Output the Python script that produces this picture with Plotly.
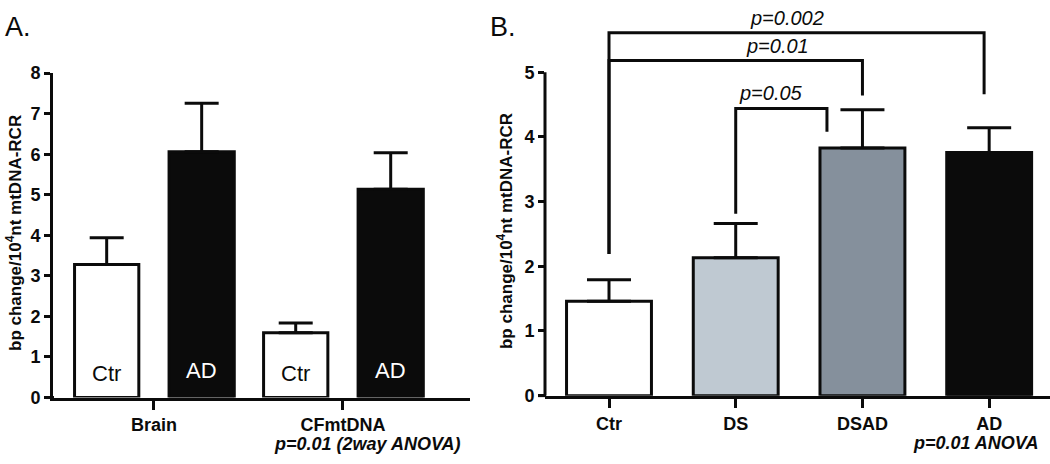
import plotly.graph_objects as go

# ---------------- data ----------------
a_categories = ["Brain", "CFmtDNA"]
a_ctr_values = [3.28, 1.60]
a_ctr_err_top = [3.94, 1.84]
a_ad_values = [6.06, 5.14]
a_ad_err_top = [7.26, 6.04]
a_yticks = [0, 1, 2, 3, 4, 5, 6, 7, 8]

b_categories = ["Ctr", "DS", "DSAD", "AD"]
b_values = [1.46, 2.13, 3.83, 3.76]
b_err_top = [1.79, 2.66, 4.42, 4.14]
b_yticks = [0, 1, 2, 3, 4, 5]

b_comparisons = [("Ctr", "AD", "p=0.002"), ("Ctr", "DSAD", "p=0.01"), ("DS", "DSAD", "p=0.05")]

# ---------------- style ----------------
W, H = 1050, 464
FONT = "Liberation Sans"
BLACK = "#0B0B0B"
b_colors = ["white", "#BFC9D2", "#85909C", BLACK]


def px_x(p):
    return p / W


def px_y(p):
    return (H - p) / H


fig = go.Figure()

# Panel A bars
fig.add_trace(go.Bar(
    x=a_categories, y=a_ctr_values, xaxis="x", yaxis="y",
    offset=-0.42, width=0.34,
    marker=dict(color="white", line=dict(color=BLACK, width=3)),
    error_y=dict(type="data", symmetric=False,
                 array=[t - v for t, v in zip(a_ctr_err_top, a_ctr_values)],
                 arrayminus=[0] * len(a_ctr_values),
                 color=BLACK, thickness=3, width=17),
    showlegend=False, hoverinfo="skip"))
fig.add_trace(go.Bar(
    x=a_categories, y=a_ad_values, xaxis="x", yaxis="y",
    offset=0.08, width=0.345,
    marker=dict(color=BLACK, line=dict(color=BLACK, width=3)),
    error_y=dict(type="data", symmetric=False,
                 array=[t - v for t, v in zip(a_ad_err_top, a_ad_values)],
                 arrayminus=[0] * len(a_ad_values),
                 color=BLACK, thickness=3, width=17),
    showlegend=False, hoverinfo="skip"))

# Panel B bars
fig.add_trace(go.Bar(
    x=b_categories, y=b_values, xaxis="x2", yaxis="y2",
    offset=-0.335, width=0.67,
    marker=dict(color=b_colors, line=dict(color=BLACK, width=3)),
    error_y=dict(type="data", symmetric=False,
                 array=[t - v for t, v in zip(b_err_top, b_values)],
                 arrayminus=[0] * len(b_values),
                 color=BLACK, thickness=3, width=22),
    showlegend=False, hoverinfo="skip"))

axis_common = dict(showgrid=False, zeroline=False, linecolor=BLACK, linewidth=3,
                   ticks="outside", tickcolor=BLACK, tickwidth=3,
                   tickfont=dict(family=FONT, size=18, color=BLACK, weight="bold"))

fig.update_layout(
    width=W, height=H,
    margin=dict(l=0, r=0, t=0, b=0),
    paper_bgcolor="white", plot_bgcolor="white",
    barmode="overlay",
    font=dict(family=FONT, color=BLACK),
    xaxis=dict(domain=[px_x(53), px_x(470)], anchor="y", type="category",
               range=[-0.534, 1.672], showline=True, ticklen=9,
               ticklabelstandoff=0, **axis_common),
    yaxis=dict(domain=[px_y(405), px_y(66)], anchor="x", range=[0, 8],
               tickvals=a_yticks, showline=True, ticklen=6, **axis_common),
    xaxis2=dict(domain=[px_x(545), 1.0], anchor="y2", type="category",
                range=[-0.505, 3.48], showline=True, ticklen=9,
                ticklabelstandoff=1, **axis_common),
    yaxis2=dict(domain=[px_y(403), px_y(15)], anchor="x2", range=[0, 5.74],
                tickvals=b_yticks, showline=False, ticklen=6, **axis_common),
)

shapes = []
# Panel B y-axis line only up to 5
shapes.append(dict(type="line", xref="paper", yref="y2", x0=px_x(545), x1=px_x(545),
                   y0=0, y1=max(b_yticks), line=dict(color=BLACK, width=3)))
# x-axis lines continue a little left of the y-axes (to the tick ends)
shapes.append(dict(type="line", xref="paper", yref="paper", x0=px_x(46), x1=px_x(54),
                   y0=px_y(405), y1=px_y(405), line=dict(color=BLACK, width=3)))
shapes.append(dict(type="line", xref="paper", yref="paper", x0=px_x(538), x1=px_x(546),
                   y0=px_y(403), y1=px_y(403), line=dict(color=BLACK, width=3)))

# Brackets (style geometry)
bracket_geom = {
    "p=0.002": dict(top=5.61, lb=2.19, rb=4.66, dl=0.0, dr=-0.04, tx=1.405),
    "p=0.01": dict(top=5.18, lb=2.19, rb=4.64, dl=0.0, dr=0.0, tx=1.326),
    "p=0.05": dict(top=4.44, lb=2.81, rb=4.08, dl=0.0, dr=-0.28, tx=1.28),
}
annotations = []
for left, right, label in b_comparisons:
    g = bracket_geom[label]
    xl = b_categories.index(left) + g["dl"]
    xr = b_categories.index(right) + g["dr"]
    path = f"M {xl},{g['lb']} L {xl},{g['top']} L {xr},{g['top']} L {xr},{g['rb']}"
    shapes.append(dict(type="path", xref="x2", yref="y2", path=path,
                       line=dict(color=BLACK, width=3)))
    annotations.append(dict(xref="x2", yref="y2", x=g["tx"], y=g["top"],
                            xanchor="center", yanchor="bottom", yshift=2,
                            text=label, showarrow=False,
                            font=dict(family=FONT, size=20, color=BLACK, style="italic")))

# Labels inside panel A bars
for i, cat in enumerate(a_categories):
    annotations.append(dict(xref="x", yref="y", x=i - 0.25, y=0.6, text="Ctr",
                            showarrow=False, xanchor="center", yanchor="middle",
                            font=dict(family=FONT, size=22, color=BLACK)))
    annotations.append(dict(xref="x", yref="y", x=i + 0.2525, y=0.66, text="AD",
                            showarrow=False, xanchor="center", yanchor="middle",
                            font=dict(family=FONT, size=22, color="white")))

ytitle = "bp change/10<sup>4</sup>nt mtDNA-RCR"
annotations += [
    dict(xref="paper", yref="paper", x=px_x(14), y=px_y(233), text=ytitle, textangle=-90,
         showarrow=False, xanchor="center", yanchor="middle",
         font=dict(family=FONT, size=17, color=BLACK, weight="bold")),
    dict(xref="paper", yref="paper", x=px_x(505), y=px_y(231), text=ytitle, textangle=-90,
         showarrow=False, xanchor="center", yanchor="middle",
         font=dict(family=FONT, size=17, color=BLACK, weight="bold")),
    dict(xref="paper", yref="paper", x=px_x(462), y=px_y(454), text="p=0.01 (2way ANOVA)",
         showarrow=False, xanchor="right", yanchor="middle", borderpad=0,
         font=dict(family=FONT, size=18, color=BLACK, weight="bold", style="italic")),
    dict(xref="paper", yref="paper", x=px_x(1040), y=px_y(452), text="p=0.01 ANOVA",
         showarrow=False, xanchor="right", yanchor="middle", borderpad=0,
         font=dict(family=FONT, size=18, color=BLACK, weight="bold", style="italic")),
    dict(xref="paper", yref="paper", x=px_x(3), y=px_y(18), text="A.",
         showarrow=False, xanchor="left", yanchor="middle",
         font=dict(family=FONT, size=27, color=BLACK)),
    dict(xref="paper", yref="paper", x=px_x(488), y=px_y(18), text="B.",
         showarrow=False, xanchor="left", yanchor="middle",
         font=dict(family=FONT, size=27, color=BLACK)),
]

fig.update_layout(shapes=shapes, annotations=annotations)
page_css = (
    "var s=document.createElement('style');"
    "s.textContent='html,body{margin:0;padding:0;height:464px;overflow:hidden;}';"
    "document.head.appendChild(s);"
)
fig.write_html("out.html", config={"displayModeBar": False}, post_script=page_css)
